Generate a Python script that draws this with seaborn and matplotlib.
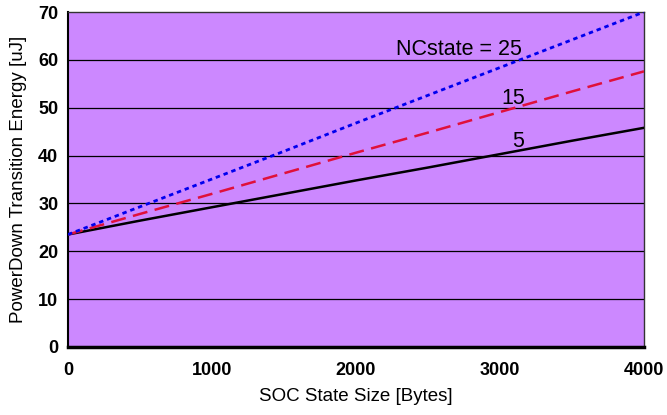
import matplotlib
matplotlib.use("Agg")
import matplotlib.pyplot as plt
import seaborn as sns
import pandas as pd

# SOC state size [bytes]
soc_size = [0, 500, 1000, 1500, 2000, 2500, 3000, 3500, 4000]

# PowerDown transition energy [uJ] per NCstate
energy_nc25 = [23.5, 29.3, 35.1, 40.9, 46.8, 52.6, 58.4, 64.2, 70.0]
energy_nc15 = [23.5, 27.8, 32.0, 36.3, 40.6, 44.8, 49.1, 53.4, 57.6]
energy_nc5 = [23.5, 26.4, 29.2, 32.0, 34.8, 37.5, 40.3, 43.1, 45.8]

x_ticks = [0, 1000, 2000, 3000, 4000]
y_ticks = [0, 10, 20, 30, 40, 50, 60, 70]


def make_plot():
    sns.set_style("white")
    plt.rcParams["font.family"] = ["Liberation Sans", "DejaVu Sans"]
    plt.rcParams["text.color"] = "black"
    plt.rcParams["axes.labelcolor"] = "black"
    plt.rcParams["xtick.labelcolor"] = "black"
    plt.rcParams["ytick.labelcolor"] = "black"

    fig = plt.figure(figsize=(6.67, 4.15), dpi=100)
    ax = fig.add_axes([0.102, 0.164, 0.8635, 0.807])
    ax.set_facecolor("#CC88FF")

    # horizontal grid
    for yv in y_ticks[1:-1]:
        ax.axhline(yv, color="black", linewidth=0.9, zorder=1)

    df = pd.DataFrame({"size": soc_size, "nc25": energy_nc25,
                       "nc15": energy_nc15, "nc5": energy_nc5})

    sns.lineplot(data=df, x="size", y="nc5", color="black", linewidth=1.8,
                 ax=ax, zorder=3)
    l15 = sns.lineplot(data=df, x="size", y="nc15", color="#E0103A",
                       linewidth=1.8, ax=ax, zorder=3).lines[-1]
    l15.set_dashes([6, 3])
    l25 = sns.lineplot(data=df, x="size", y="nc25", color="#0000EE",
                       linewidth=2.0, ax=ax, zorder=3).lines[-1]
    l25.set_dashes([1.6, 1.4])

    ax.text(2715, 61.0, "NCstate = 25", fontsize=15.5, ha="center", va="baseline")
    ax.text(3093, 50.8, "15", fontsize=15.5, ha="center", va="baseline")
    ax.text(3125, 41.8, "5", fontsize=15.5, ha="center", va="baseline")

    ax.set_xlim(0, 4000)
    ax.set_ylim(0, 70)
    ax.set_xticks(x_ticks)
    ax.set_yticks(y_ticks)
    ax.set_xticklabels([str(v) for v in x_ticks], fontsize=13, fontweight="bold")
    ax.set_yticklabels([str(v) for v in y_ticks], fontsize=13, fontweight="bold")
    ax.tick_params(axis="x", direction="out", length=5, width=1,
                   color="#777777", pad=6)
    ax.tick_params(axis="y", direction="out", length=4, width=1,
                   color="black", pad=3)

    ax.set_xlabel("SOC State Size [Bytes]", fontsize=13.5, labelpad=6)
    ax.set_ylabel("PowerDown Transition Energy [uJ]", fontsize=13.5, labelpad=8)

    for side in ["top", "right"]:
        ax.spines[side].set_color("#333333")
        ax.spines[side].set_linewidth(1.0)
        ax.spines[side].set_visible(True)
    ax.spines["left"].set_color("black")
    ax.spines["left"].set_linewidth(1.5)
    ax.spines["bottom"].set_color("black")
    ax.spines["bottom"].set_linewidth(2.5)

    fig.savefig("out.png", dpi=100)


if __name__ == "__main__":
    make_plot()
